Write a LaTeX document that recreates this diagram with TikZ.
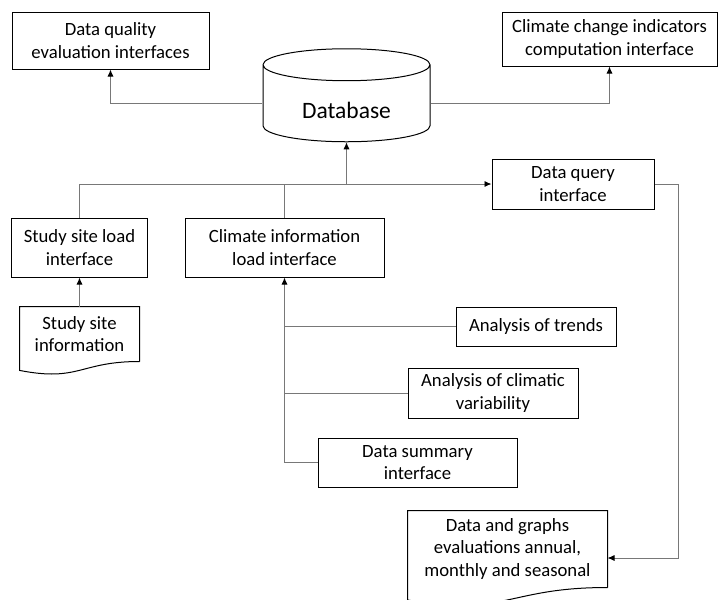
\documentclass[tikz,border=0pt]{standalone}
\usepackage{fontspec}
\setmainfont{Carlito}
\usepackage{tikz}
\usetikzlibrary{
    arrows.meta,
    shapes.geometric,
    calc,
    positioning
}
\definecolor{linkgray}{RGB}{120,120,120}
\tikzset{
    box/.style={draw, line width=1pt, align=center, inner sep=0pt, font=\fontsize{18.7}{22.4}\selectfont},
    doc/.style={box, draw=none},
    dbcyl/.style={cylinder, shape border rotate=90, aspect=0.36, draw, line width=1pt, inner sep=0pt,
        minimum width=167pt, minimum height=93pt, text height=29pt, text depth=0pt,
        font=\fontsize{23.5}{28}\selectfont},
    link/.style={draw=linkgray, line width=0.9pt},
    arr/.style={link, -{Latex[length=7pt, width=6pt, black]}}
}
% document outline: node, drop of the left end, depth of the wave
\newcommand{\docline}[3]{%
    \draw[line width=1pt] (#1.south east) -- (#1.north east) -- (#1.north west)
        -- ([yshift=-#2pt]#1.south west) .. controls ([yshift=-#3pt]#1.south) and (#1.south) .. (#1.south east);
}

\begin{document}
\begin{tikzpicture}[x=1pt, y=-1pt]
    \useasboundingbox (0,0) rectangle (718,600);
    \node[box, minimum width=197pt, minimum height=57pt] (dq) at (110.5,40.5) {Data quality\\evaluation interfaces};
    \node[box, minimum width=215pt, minimum height=54pt] (cc) at (609.5,39) {Climate change indicators\\computation interface};
    \node[dbcyl] (db) at (346.5,103.5) {Database};
    \node[box, minimum width=162pt, minimum height=50pt] (dqi) at (573,184) {Data query\\interface};
    \node[box, minimum width=136pt, minimum height=59pt] (sl) at (79.5,247.5) {Study site load\\interface};
    \node[box, minimum width=199pt, minimum height=59pt] (ci) at (284.5,247.5) {Climate information\\load interface};
    \node[doc, minimum width=119pt, minimum height=54pt] (si) at (79.5,334) {Study site\\information};
    \node[box, minimum width=160pt, minimum height=39pt] (tr) at (536,326.5) {Analysis of trends};
    \node[box, minimum width=170pt, minimum height=50pt] (cv) at (493,393) {Analysis of climatic\\variability};
    \node[box, minimum width=199pt, minimum height=49pt] (ds) at (417.5,462.5) {Data summary\\interface};
    \node[doc, minimum width=199pt, minimum height=76pt] (dg) at (507.5,549) {Data and graphs\\evaluations annual,\\monthly and seasonal};
    \docline{si}{8.9}{20.6}
    \docline{dg}{12.5}{29}

    % connectors
    \draw[arr] (db.west) -| (dq.south);
    \draw[arr] (db.east) -| (cc.south);
    \draw[arr] (sl.north) |- (dqi.west);
    \draw[link] (ci.north) -- (ci.north |- dqi.west);
    \draw[arr] (db.south |- dqi.west) -- (db.south);
    \draw[arr] (dqi.east) -- ++(24,0) |- ([yshift=-9pt]dg.east);
    \draw[arr] (si.north) -- (sl.south);
    \draw[arr] (ds.west) -| (ci.south);
    \draw[link]
        (tr.west) edge (tr.west -| ci.south)
        (cv.west) edge (cv.west -| ci.south);
\end{tikzpicture}
\end{document}
